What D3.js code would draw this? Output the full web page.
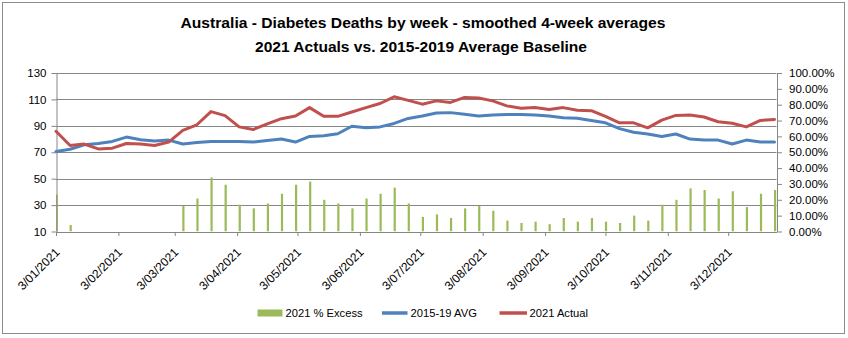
<!DOCTYPE html>
<html><head><meta charset="utf-8">
<script src="https://cdn.jsdelivr.net/npm/d3@7"></script>
<style>
html,body{margin:0;padding:0;background:#fff;}
svg{display:block;font-family:"Liberation Sans",Arial,sans-serif;}
</style></head>
<body>
<svg id="chart" width="848" height="338"></svg>
<script>
// ---- data ----
const startDate = "2021-01-03";
const weekCount = 52;
const avg2015_19 = [70.5,72.3,75.6,76.6,78.2,81.5,79.5,78.5,79.2,76.2,77.4,78.2,78.2,78.2,77.7,78.9,80.0,77.7,82.0,82.5,84.0,89.7,88.5,89.2,91.8,95.6,97.4,99.7,100.0,98.7,97.4,98.2,98.5,98.5,98.2,97.4,96.2,95.8,94.0,92.3,87.9,85.1,83.8,82.0,83.8,80.0,79.2,79.2,76.2,79.2,77.7,77.7];
const actual2021 = [85.9,75.1,76.2,72.5,73.1,76.6,76.2,75.1,77.7,86.6,90.8,100.8,97.7,89.2,87.2,91.5,95.4,97.4,103.8,97.2,97.2,100.5,103.8,106.9,112.0,109.3,106.4,108.9,107.7,111.5,111.0,108.9,105.1,103.3,103.8,102.3,103.8,101.8,101.5,97.2,92.3,92.3,88.5,94.3,97.9,98.2,96.7,93.1,92.0,89.2,94.1,94.8];
const excessPct = [23.3,4.1,-0.5,-5.3,-6.5,-6.0,-4.2,-4.3,-1.9,16.2,20.8,34.1,29.5,16.9,14.6,17.7,23.8,29.5,31.5,20.0,17.7,14.6,20.8,23.8,27.7,17.7,9.2,10.8,8.5,14.6,16.2,13.1,6.9,5.4,6.2,4.6,8.5,6.2,8.5,6.2,5.4,10.0,6.9,16.9,20.0,27.2,26.2,20.8,25.4,15.4,23.8,26.2];
const leftTicks = [10,30,50,70,90,110,130];
const rightTicks = [0,10,20,30,40,50,60,70,80,90,100];
const monthTickLabels = ["3/01/2021","3/02/2021","3/03/2021","3/04/2021","3/05/2021","3/06/2021","3/07/2021","3/08/2021","3/09/2021","3/10/2021","3/11/2021","3/12/2021"];
const titleLines = ["Australia - Diabetes Deaths by week - smoothed 4-week averages","2021 Actuals vs. 2015-2019 Average Baseline"];
const seriesNames = ["2021 % Excess","2015-19 AVG","2021 Actual"];
const colors = {bar:"#9BBB59", avg:"#4F81BD", act:"#C0504D", grid:"#868686", text:"#000"};

// ---- build ----
const parse = d3.timeParse("%Y-%m-%d");
const d0 = parse(startDate);
const dates = d3.range(weekCount).map(i => d3.timeDay.offset(d0, 7*i));
const rows = dates.map((d,i)=>({date:d, avg:avg2015_19[i], act:actual2021[i], ex:excessPct[i]}));
const tickDates = monthTickLabels.map(s => { const p = s.split("/"); return new Date(+p[2], +p[1]-1, +p[0]); });

const svg = d3.select("#chart");
const L = 56, R = 776.5, T = 73, B = 231.5;

// chart frame
svg.append("rect").attr("x",2.5).attr("y",2.5).attr("width",842).attr("height",331)
  .attr("fill","#fff").attr("stroke","#8c8c8c").attr("stroke-width",1);

const x = d3.scaleTime().domain([dates[0], d3.timeDay.offset(dates[weekCount-1],1)]).range([L, R]);
const yL = d3.scaleLinear().domain([10,130]).range([B, T]);
const yR = d3.scaleLinear().domain([0,100]).range([B, T]);

// gridlines
svg.append("g").selectAll("line").data(leftTicks).join("line")
  .attr("x1",L).attr("x2",R).attr("y1",d=>Math.round(yL(d))+0.5).attr("y2",d=>Math.round(yL(d))+0.5)
  .attr("stroke",colors.grid).attr("stroke-width",1);

// bars (clip to plot area)
svg.append("clipPath").attr("id","clip").append("rect")
  .attr("x",L).attr("y",T).attr("width",R-L+2).attr("height",B-T);
svg.append("g").attr("clip-path","url(#clip)").selectAll("rect").data(rows.filter(r=>r.ex>0)).join("rect")
  .attr("x",d=>x(d.date)-0.5).attr("width",2.2)
  .attr("y",d=>yR(d.ex)).attr("height",d=>B-yR(d.ex))
  .attr("fill",colors.bar);

// axes
const axisStyle = g => {
  g.select(".domain").attr("stroke",colors.grid);
  g.selectAll(".tick line").attr("stroke",colors.grid);
  g.selectAll("text").attr("fill",colors.text).style("font-size","11.5px").style("font-family","'Liberation Sans',Arial,sans-serif");
};
svg.append("g").attr("transform",`translate(${L+0.5},0)`)
  .call(d3.axisLeft(yL).tickValues(leftTicks).tickSize(5).tickPadding(5).tickSizeOuter(0))
  .call(axisStyle);
svg.append("g").attr("transform",`translate(${R+0.5},0)`)
  .call(d3.axisRight(yR).tickValues(rightTicks).tickSize(5).tickPadding(7).tickSizeOuter(0)
    .tickFormat(d=>d3.format(".2f")(d)+"%"))
  .call(axisStyle);
const xg = svg.append("g").attr("transform",`translate(0,${B+0.5})`)
  .call(d3.axisBottom(x).tickValues(tickDates).tickSize(4).tickSizeOuter(0)
    .tickFormat((d,i)=>monthTickLabels[i]))
  .call(axisStyle);
xg.selectAll(".tick text")
  .attr("text-anchor","end").attr("dy","0").attr("y",0)
  .style("font-size","12px")
  .attr("transform","translate(4,21) rotate(-45)");

// lines
const lineAvg = d3.line().x(d=>x(d.date)).y(d=>yL(d.avg));
const lineAct = d3.line().x(d=>x(d.date)).y(d=>yL(d.act));
svg.append("path").datum(rows).attr("d",lineAvg).attr("fill","none")
  .attr("stroke",colors.avg).attr("stroke-width",3).attr("stroke-linejoin","round").attr("stroke-linecap","round");
svg.append("path").datum(rows).attr("d",lineAct).attr("fill","none")
  .attr("stroke",colors.act).attr("stroke-width",3).attr("stroke-linejoin","round").attr("stroke-linecap","round");

// title
svg.append("text").attr("x",423).attr("y",27.5).attr("text-anchor","middle")
  .style("font-weight","bold").style("font-size","15px").attr("fill",colors.text)
  .attr("textLength",485).attr("lengthAdjust","spacingAndGlyphs").text(titleLines[0]);
svg.append("text").attr("x",421).attr("y",51.5).attr("text-anchor","middle")
  .style("font-weight","bold").style("font-size","15px").attr("fill",colors.text)
  .attr("textLength",332).attr("lengthAdjust","spacingAndGlyphs").text(titleLines[1]);

// legend
const lg = svg.append("g").style("font-size","11.2px").attr("fill",colors.text);
lg.append("rect").attr("x",257.5).attr("y",309.5).attr("width",25).attr("height",7).attr("fill",colors.bar);
lg.append("text").attr("x",285.5).attr("y",317).text(seriesNames[0]);
lg.append("line").attr("x1",382).attr("x2",407.5).attr("y1",313).attr("y2",313).attr("stroke",colors.avg).attr("stroke-width",3.5);
lg.append("text").attr("x",410.5).attr("y",317).text(seriesNames[1]);
lg.append("line").attr("x1",499.5).attr("x2",527).attr("y1",313).attr("y2",313).attr("stroke",colors.act).attr("stroke-width",3.5);
lg.append("text").attr("x",529.5).attr("y",317).text(seriesNames[2]);
</script>
</body></html>
